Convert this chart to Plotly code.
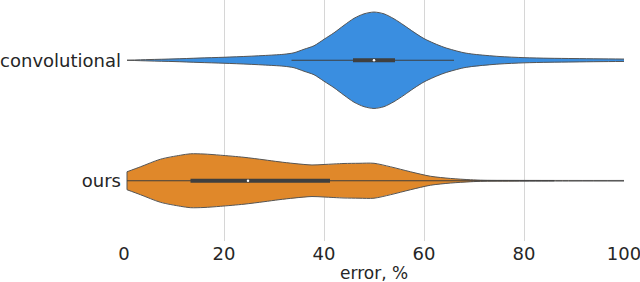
import plotly.graph_objects as go

categories = ["convolutional", "ours"]

# density profiles (arbitrary units, half-width)
conv_x = [0.6, 5, 10, 15, 20, 25, 30, 32, 34, 36, 38, 40, 42, 44, 46, 48, 50,
          52, 54, 56, 58, 60, 62, 64, 66, 68, 70, 75, 80, 85, 90, 95, 100]
conv_density = [0, 0.7, 1.3, 2.2, 3.0, 4.0, 5.3, 6.0, 7.5, 11, 14.5, 21, 27.5, 35, 42, 46.5, 48.3,
                46.5, 41.5, 35, 28, 21.7, 17, 13, 10, 7.5, 6, 3.8, 2.6, 2.0, 1.7, 1.4, 1.2]

ours_x = [0.6, 3.3, 7.3, 11.3, 13.3, 16, 19.3, 24, 28, 31, 34, 37.6, 40, 44, 47, 50,
          53.3, 57.3, 61.3, 65.3, 69.3, 72, 80, 90, 100]
ours_density = [9, 14, 21.6, 25.6, 27, 26.8, 25.6, 23.5, 21, 19, 17.3, 15.8, 16.3, 17.3, 17.5, 17.5,
                14, 9, 4.5, 2.3, 1.0, 0.5, 0.35, 0.3, 0.3]

# box statistics: whisker low, q1, median, q3, whisker high
conv_box = [33.5, 45.8, 50.0, 54.2, 66.0]
ours_box = [0.6, 13.3, 24.8, 41.2, 86.0]

colors = ["#3a8ee0", "#e0882a"]
xticks = [0, 20, 40, 60, 80, 100]
edge = "#555555"

fig = go.Figure()
maxd = max(max(conv_density), max(ours_density))
for i, (xs, ds, box) in enumerate([(conv_x, conv_density, conv_box), (ours_x, ours_density, ours_box)]):
    hw = [d / maxd * 0.4 for d in ds]
    top = [i - h for h in hw]
    bot = [i + h for h in hw]
    fig.add_trace(go.Scatter(x=list(xs) + list(xs[::-1]), y=top + bot[::-1], mode="lines",
                             fill="toself", fillcolor=colors[i],
                             line=dict(color="rgba(0,0,0,0)", width=0),
                             hoverinfo="skip", showlegend=False))
    for ys in (top, bot):
        fig.add_trace(go.Scatter(x=xs, y=ys, mode="lines",
                                 line=dict(color=edge, width=1, shape="spline", smoothing=0.8),
                                 hoverinfo="skip", showlegend=False))
    if hw[0] > 0:
        fig.add_trace(go.Scatter(x=[xs[0], xs[0]], y=[top[0], bot[0]], mode="lines",
                                 line=dict(color=edge, width=1), showlegend=False))
    fig.add_trace(go.Scatter(x=[box[0], box[4]], y=[i, i], mode="lines",
                             line=dict(color="#3f3f3f", width=1.2), showlegend=False))
    fig.add_trace(go.Scatter(x=[box[1], box[3]], y=[i, i], mode="lines",
                             line=dict(color="#3f3f3f", width=4), showlegend=False))
    fig.add_trace(go.Scatter(x=[box[2]], y=[i], mode="markers",
                             marker=dict(color="white", size=2.5), showlegend=False))

fig.update_layout(
    width=640, height=282,
    margin=dict(l=123.5, r=16, t=0, b=41),
    plot_bgcolor="white", paper_bgcolor="white",
    font=dict(family="DejaVu Sans", size=18, color="#262626"),
    showlegend=False,
    annotations=[dict(text="error, %", x=0.5, y=0, xref="paper", yref="paper",
                      xanchor="center", yanchor="middle", yshift=-32, showarrow=False,
                      font=dict(size=17, color="#262626"))],
)
fig.update_xaxes(range=[0, 100], tickvals=xticks, ticks="", showgrid=True,
                 gridcolor="#d6d6d6", gridwidth=1, zeroline=False, showline=False,
                 automargin=False, tickfont=dict(size=18), ticklabeloverflow="allow")
fig.update_yaxes(range=[1.5, -0.5], tickvals=[0, 1], ticktext=categories, ticks="",
                 showgrid=False, zeroline=False, showline=False, ticklabelstandoff=2,
                 automargin=False, tickfont=dict(size=18))

fig.write_html("out.html", config={"displayModeBar": False},
               post_script="document.body.style.margin='0px';")
